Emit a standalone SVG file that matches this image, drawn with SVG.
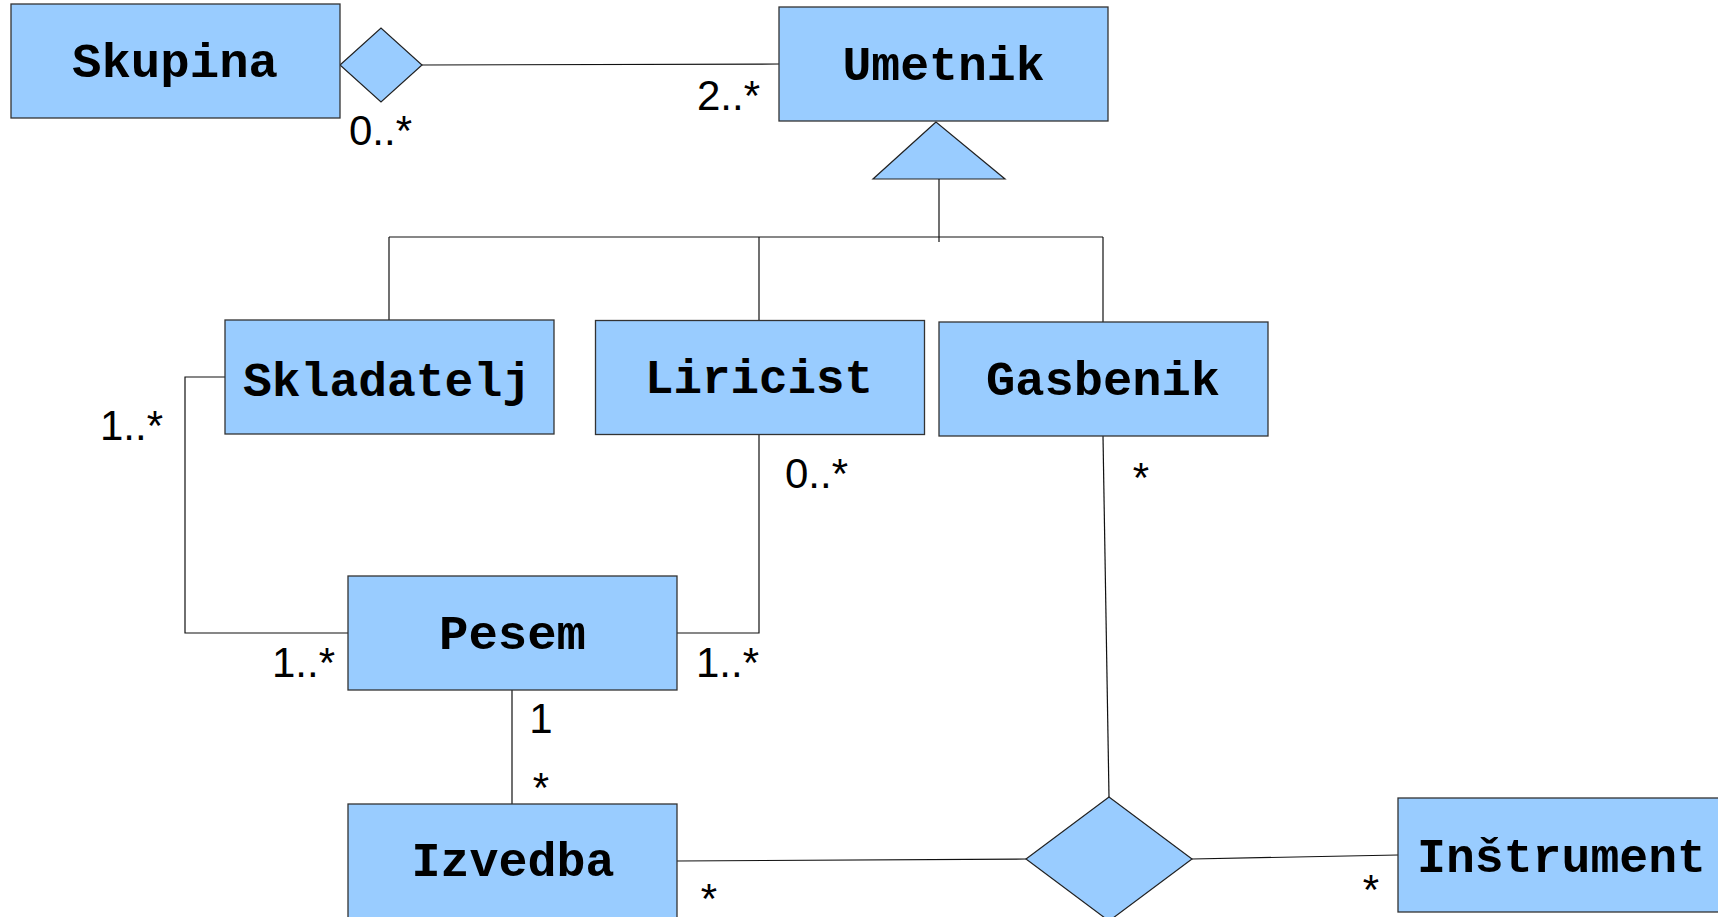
<svg xmlns="http://www.w3.org/2000/svg" width="1718" height="917" viewBox="0 0 1718 917">
<style>
.box{fill:#99ccff;stroke:#333333;stroke-width:1.3}
.shape{fill:#99ccff;stroke:#222222;stroke-width:1.2}
.line{fill:none;stroke:#111111;stroke-width:1.2}
.name{font-family:"Liberation Mono","DejaVu Sans Mono",monospace;font-weight:bold;font-size:48px;fill:#000}
.mult{font-family:"Liberation Sans",Arial,sans-serif;font-size:42px;fill:#000}
</style>
<rect width="1718" height="917" fill="#ffffff"/>
<g id="connectors">
<polygon class="shape" points="340,65 381,28 422,65 381,102"/>
<line class="line" x1="422" y1="65" x2="779" y2="64"/>
<polygon class="shape" points="936,122 873,179 1005,179"/>
<line class="line" x1="939" y1="179" x2="939" y2="242"/>
<line class="line" x1="389" y1="237" x2="1103" y2="237"/>
<line class="line" x1="389" y1="237" x2="389" y2="320"/>
<line class="line" x1="759" y1="237" x2="759" y2="321"/>
<line class="line" x1="1103" y1="237" x2="1103" y2="322"/>
<polyline class="line" points="225,377 185,377 185,633 348,633"/>
<polyline class="line" points="759,434 759,633 677,633"/>
<line class="line" x1="512" y1="690" x2="512" y2="804"/>
<line class="line" x1="677" y1="861" x2="1026" y2="859"/>
<line class="line" x1="1103" y1="436" x2="1109" y2="797"/>
<polygon class="shape" points="1026,859 1109,797 1192,859 1109,921"/>
<line class="line" x1="1192" y1="859" x2="1398" y2="855"/>
<text class="mult" x="349" y="145">0..*</text>
<text class="mult" x="697" y="110">2..*</text>
<text class="mult" x="100" y="440">1..*</text>
<text class="mult" x="785" y="488">0..*</text>
<text class="mult" x="1141" y="492" text-anchor="middle">*</text>
<text class="mult" x="272" y="677">1..*</text>
<text class="mult" x="696" y="677">1..*</text>
<text class="mult" x="541" y="733" text-anchor="middle">1</text>
<text class="mult" x="541" y="802" text-anchor="middle">*</text>
<text class="mult" x="709" y="913" text-anchor="middle">*</text>
<text class="mult" x="1371" y="904" text-anchor="middle">*</text>
</g>
<g id="skupina">
<rect class="box" x="11" y="4" width="329" height="114"/>
<text class="name" x="72" y="77" textLength="206" lengthAdjust="spacingAndGlyphs">Skupina</text>
</g>
<g id="umetnik">
<rect class="box" x="779" y="7" width="329" height="114"/>
<text class="name" x="842.5" y="80" textLength="202" lengthAdjust="spacingAndGlyphs">Umetnik</text>
</g>
<g id="skladatelj">
<rect class="box" x="225" y="320" width="329" height="114"/>
<text class="name" x="243" y="396" textLength="288" lengthAdjust="spacingAndGlyphs">Skladatelj</text>
</g>
<g id="liricist">
<rect class="box" x="595.5" y="320.5" width="329" height="114"/>
<text class="name" x="645" y="393" textLength="228" lengthAdjust="spacingAndGlyphs">Liricist</text>
</g>
<g id="gasbenik">
<rect class="box" x="939" y="322" width="329" height="114"/>
<text class="name" x="986" y="395" textLength="234" lengthAdjust="spacingAndGlyphs">Gasbenik</text>
</g>
<g id="pesem">
<rect class="box" x="348" y="576" width="329" height="114"/>
<text class="name" x="439" y="649" textLength="147" lengthAdjust="spacingAndGlyphs">Pesem</text>
</g>
<g id="izvedba">
<rect class="box" x="348" y="804" width="329" height="114"/>
<text class="name" x="411.6" y="876" textLength="203" lengthAdjust="spacingAndGlyphs">Izvedba</text>
</g>
<g id="instrument">
<rect class="box" x="1398" y="798" width="329" height="114"/>
<text class="name" x="1417" y="872" textLength="289" lengthAdjust="spacingAndGlyphs">Inštrument</text>
</g>
</svg>
